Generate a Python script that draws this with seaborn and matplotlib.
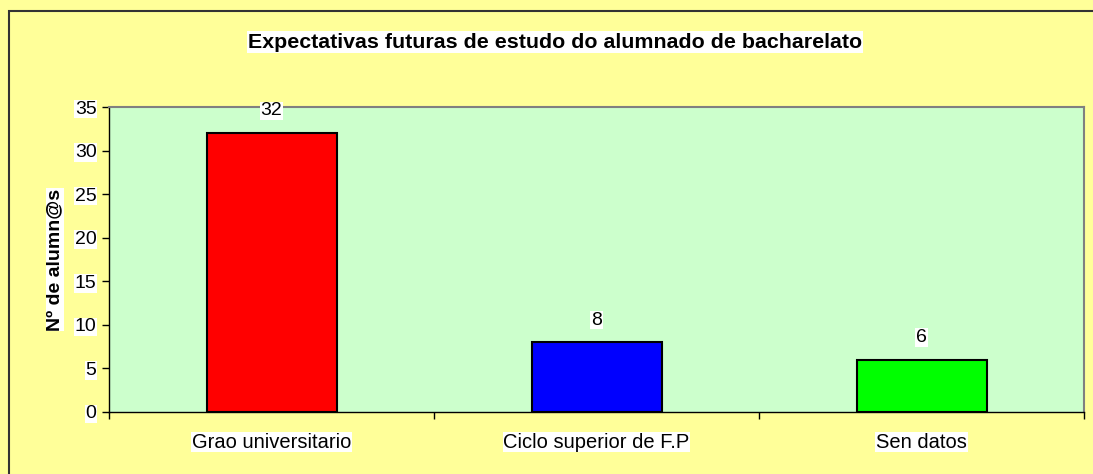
import matplotlib
matplotlib.use("Agg")
import matplotlib.pyplot as plt
import seaborn as sns
import pandas as pd
from matplotlib.patches import Rectangle

categories = ["Grao universitario", "Ciclo superior de F.P", "Sen datos"]
values = [32, 8, 6]
bar_colors = ["#FF0000", "#0000FF", "#00FF00"]
yticks = [0, 5, 10, 15, 20, 25, 30, 35]
title = "Expectativas futuras de estudo do alumnado de bacharelato"
ylabel = "Nº de alumn@s"

sns.set_theme(style="white")
plt.rcParams['font.family'] = ['Liberation Sans', 'DejaVu Sans']
plt.rcParams['text.color'] = 'black'
plt.rcParams['axes.labelcolor'] = 'black'
plt.rcParams['xtick.color'] = 'black'
plt.rcParams['ytick.color'] = 'black'

df = pd.DataFrame({"cat": categories, "val": values})

fig = plt.figure(figsize=(10.93, 4.74), dpi=100)
fig.patch.set_facecolor("#FFFF99")
fig.patches.append(Rectangle((8.5/1093, -0.05), 1.1, 1 - 10.5/474 + 0.05, transform=fig.transFigure,
                             fill=False, edgecolor="#333333", linewidth=1.5, zorder=0))
ax = fig.add_axes([109/1093, 1 - 412/474, 975/1093, 305/474])
ax.set_facecolor("#CCFFCC")

sns.barplot(data=df, x="cat", y="val", hue="cat", palette=bar_colors, legend=False,
            width=0.4, edgecolor="black", linewidth=1.5, ax=ax, saturation=1)

ax.set_ylim(0, 35)
ax.set_xlim(-0.5, 2.5)
ax.set_yticks(yticks)
ax.set_xticks(range(len(categories)))
ax.set_xticklabels(categories)
ax.set_xticks([-0.5, 0.5, 1.5, 2.5], minor=True)
ax.tick_params(axis="x", which="major", bottom=False, length=0, pad=15, labelsize=14.5)
ax.tick_params(axis="x", which="minor", bottom=True, length=5, direction="out", width=1, color="black")
ax.tick_params(axis="y", left=True, length=5, direction="out", width=1, color="black", labelsize=14, pad=4)
ax.set_xlabel("")
ax.set_ylabel(ylabel, fontsize=14, fontweight="bold", labelpad=8)

for lbl in ax.get_xticklabels() + ax.get_yticklabels():
    lbl.set_bbox(dict(facecolor="white", edgecolor="none", pad=0.5))
ax.yaxis.label.set_bbox(dict(facecolor="white", edgecolor="none", pad=0.5))

for s in ["top", "right"]:
    ax.spines[s].set_color("#808080")
    ax.spines[s].set_linewidth(1.5)
for s in ["left", "bottom"]:
    ax.spines[s].set_color("black")
    ax.spines[s].set_linewidth(1)

for i, v in enumerate(values):
    ax.annotate(str(v), (i, v), xytext=(0, 16), textcoords="offset points",
                ha="center", va="center", fontsize=14,
                bbox=dict(facecolor="white", edgecolor="none", pad=0.5), zorder=5)

fig.text(555 / 1093, 1 - 42/474, title, ha="center", va="center",
         fontsize=15.4, fontweight="bold",
         bbox=dict(facecolor="white", edgecolor="none", pad=1))

fig.savefig("out.png", dpi=100, facecolor=fig.get_facecolor())
